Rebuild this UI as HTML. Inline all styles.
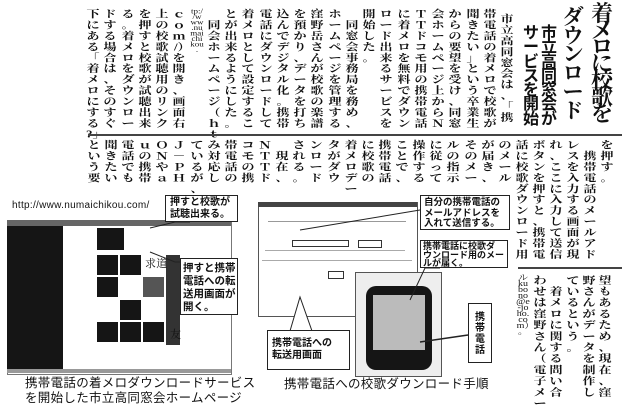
<!DOCTYPE html>
<html><head><meta charset="utf-8">
<style>
html,body{margin:0;padding:0;background:#fff}
#p{position:relative;width:622px;height:407px;overflow:hidden;background:#fff;color:#111;font-family:"Liberation Serif","Noto Serif CJK SC","Noto Serif CJK JP",serif}
.c{position:absolute;font-size:13px;line-height:14px;width:14px;text-align:center;word-break:break-all;line-break:anywhere;overflow-wrap:anywhere;transform:scaleY(.78);transform-origin:top;font-weight:700}
.r{transform:scaleY(.8)}
.h{position:absolute;font-weight:700;word-break:break-all;line-break:anywhere;text-align:center}
.b{position:absolute;background:#fff;border:1.5px solid #222;font-family:"Liberation Sans","Noto Sans CJK JP",sans-serif;font-size:10px;line-height:12px;font-weight:700;padding:2px 3px;box-sizing:border-box;white-space:nowrap;overflow:hidden;z-index:3}
.ln{position:absolute;background:#444}
.d{position:absolute;background:#151515}
.cap{position:absolute;font-family:"Liberation Sans","Noto Sans CJK JP",sans-serif;font-size:12.5px;line-height:14px;white-space:nowrap;letter-spacing:.3px;z-index:4}
</style></head><body><div id="p">

<!-- headline -->
<div class="h" style="left:590px;top:6px;width:24px;font-size:22px;line-height:16.7px">着メロに校歌を</div>
<div class="h" style="left:561px;top:8px;width:24px;font-size:21px;line-height:18.7px">ダウンロード</div>
<div class="h" style="left:540px;top:27px;width:18px;font-size:16px;line-height:14.3px;font-family:'Liberation Sans','Noto Sans CJK JP',sans-serif">市立高同窓会が</div>
<div class="h" style="left:522px;top:27px;width:18px;font-size:16px;line-height:14.3px;font-family:'Liberation Sans','Noto Sans CJK JP',sans-serif">サービスを開始</div>

<!-- upper body -->
<div class="c" style="left:500px;top:14px">市立高同窓会は、「携</div>
<div class="c" style="left:483px;top:9px">帯電話の着メロで校歌が</div>
<div class="c" style="left:466px;top:9px">聞きたい」という卒業生</div>
<div class="c" style="left:448px;top:9px">からの要望を受け、同窓</div>
<div class="c" style="left:431px;top:9px">会ホームページ上からＮ</div>
<div class="c" style="left:414px;top:9px">ＴＴドコモ用の携帯電話</div>
<div class="c" style="left:397px;top:9px">に着メロを無料でダウン</div>
<div class="c" style="left:379px;top:9px">ロード出来るサービスを</div>
<div class="c" style="left:362px;top:9px">開始した。</div>
<div class="c" style="left:345px;top:9px">　同窓会事務局を務め、</div>
<div class="c" style="left:328px;top:9px">ホームページを管理する</div>
<div class="c" style="left:310px;top:9px">窪野岳さんが校歌の楽譜</div>
<div class="c" style="left:293px;top:9px">を預かり、データを打ち</div>
<div class="c" style="left:276px;top:9px">込んでデジタル化。携帯</div>
<div class="c" style="left:259px;top:9px">電話にダウンロードして</div>
<div class="c" style="left:241px;top:9px">着メロとして設定するこ</div>
<div class="c" style="left:224px;top:9px">とが出来るようにした。</div>
<div class="c" style="left:207px;top:9px">　同会ホームページ（ｈｔ</div>
<div class="c" style="left:190px;top:9px;font-weight:400;font-size:9px;line-height:7px">tp://www.numaichikou.</div>
<div class="c" style="left:172px;top:9px">ｃｏｍ/）を開き、画面右</div>
<div class="c" style="left:155px;top:9px">上の校歌試聴用のリンク</div>
<div class="c" style="left:138px;top:9px">を押すと校歌が試聴出来</div>
<div class="c" style="left:121px;top:9px">る。着メロをダウンロー</div>
<div class="c" style="left:103px;top:9px">ドする場合は、そのすぐ</div>
<div class="c" style="left:86px;top:9px">下にある「着メロにする?」</div>

<div class="ln" style="left:88px;top:134px;width:534px;height:2px"></div>

<!-- lower body -->
<div class="c" style="left:600px;top:140px">を押す。</div>
<div class="c" style="left:583px;top:140px">　携帯電話のメールアド</div>
<div class="c" style="left:566px;top:140px">レスを入力する画面が現</div>
<div class="c" style="left:549px;top:140px">れ、ここに入力して送信</div>
<div class="c" style="left:532px;top:140px">ボタンを押すと、携帯電</div>
<div class="c" style="left:515px;top:140px">話に校歌ダウンロード用</div>
<div class="c" style="left:498px;top:140px">のメール</div>
<div class="c" style="left:481px;top:140px">が届き、</div>
<div class="c" style="left:464px;top:140px">そのメー</div>
<div class="c" style="left:446px;top:140px">ルの指示</div>
<div class="c" style="left:429px;top:140px">に従って</div>
<div class="c" style="left:412px;top:140px">操作する</div>
<div class="c" style="left:395px;top:140px">ことで、</div>
<div class="c" style="left:378px;top:140px">携帯電話</div>
<div class="c" style="left:361px;top:140px">に校歌の</div>
<div class="c" style="left:344px;top:140px">着メロデー</div>
<div class="c" style="left:327px;top:140px">タがダウ</div>
<div class="c" style="left:309px;top:140px">ンロード</div>
<div class="c" style="left:292px;top:140px">される。</div>
<div class="c" style="left:275px;top:140px">　現在、</div>
<div class="c" style="left:258px;top:140px">ＮＴＴド</div>
<div class="c" style="left:241px;top:140px">コモの携</div>
<div class="c" style="left:224px;top:140px">帯電話の</div>
<div class="c" style="left:207px;top:140px">み対応し</div>
<div class="c" style="left:190px;top:140px">ているが、</div>
<div class="c" style="left:172px;top:140px">Ｊ－ＰＨ</div>
<div class="c" style="left:155px;top:140px">ＯＮやａ</div>
<div class="c" style="left:138px;top:140px">ｕの携帯</div>
<div class="c" style="left:121px;top:140px">電話でも</div>
<div class="c" style="left:104px;top:140px">聞きたい</div>
<div class="c" style="left:87px;top:140px">という要</div>

<div class="ln" style="left:518px;top:267px;width:104px;height:1.5px"></div>

<div class="c r" style="left:598px;top:275px">望もあるため、現在、窪</div>
<div class="c r" style="left:582px;top:275px">野さんがデータを制作し</div>
<div class="c r" style="left:566px;top:275px">ているという。</div>
<div class="c r" style="left:549px;top:275px">　着メロに関する問い合</div>
<div class="c r" style="left:533px;top:275px">わせは窪野さん（電子メー</div>
<div class="c r" style="left:516px;top:275px;font-weight:400;font-size:10px;line-height:7.5px">ル kubono@e-joho.com）。</div>

<!-- left screenshot -->
<div class="cap" style="left:12px;top:199px;font-size:10px">http://www.numaichikou.com/</div>
<div style="position:absolute;left:7px;top:220px;width:223px;height:153px;border:1px solid #777;background:#fff"></div>
<div style="position:absolute;left:7px;top:220px;width:224px;height:6px;background:#666"></div>
<div class="d" style="left:7px;top:226px;width:56px;height:145px"></div>
<div style="position:absolute;left:7px;top:369px;width:224px;height:4px;background:#999"></div>
<div class="d" style="left:97px;top:228px;width:27px;height:22px"></div>
<div class="d" style="left:97px;top:255px;width:21px;height:20px"></div>
<div class="d" style="left:120px;top:255px;width:21px;height:20px"></div>
<div class="d" style="left:97px;top:277px;width:21px;height:20px"></div>
<div class="d" style="left:143px;top:277px;width:21px;height:20px;background:#555"></div>
<div class="d" style="left:120px;top:300px;width:21px;height:20px"></div>
<div class="d" style="left:97px;top:322px;width:21px;height:20px"></div>
<div class="d" style="left:120px;top:322px;width:21px;height:20px"></div>
<div class="d" style="left:143px;top:322px;width:21px;height:20px"></div>
<div class="d" style="left:166px;top:255px;width:14px;height:90px;background:#333"></div>
<div class="cap" style="left:145px;top:256px;font-size:11px;font-family:'Noto Serif CJK SC',serif">求道</div>
<div class="cap" style="left:170px;top:327px;font-size:11px;font-family:'Noto Serif CJK SC',serif">友</div>
<svg style="position:absolute;left:0;top:0;z-index:2" width="622" height="407">
<polyline points="150,228 175,222 190,222" fill="none" stroke="#222" stroke-width="1"/>
<polyline points="150,252 175,262 180,262" fill="none" stroke="#222" stroke-width="1"/>
</svg>
<div class="b" style="left:165px;top:195px;width:73px;height:27px;padding:1px 4px">押すと校歌が<br>試聴出来る。</div>
<div class="b" style="left:180px;top:258px;width:58px;height:57px;font-size:10.5px;line-height:13px;padding:3px 2px">押すと携帯<br>電話への転<br>送用画面が<br>開く。</div>
<div class="cap" style="left:25px;top:376px;width:240px">携帯電話の着メロダウンロードサービス</div>
<div class="cap" style="left:25px;top:391px;width:240px">を開始した市立高同窓会ホームページ</div>

<!-- middle -->
<div style="position:absolute;left:258px;top:202px;width:158px;height:113px;border:1px solid #555;background:#fff"></div>
<div style="position:absolute;left:258px;top:202px;width:159px;height:5px;background:#444"></div>
<div style="position:absolute;left:268px;top:221px;width:138px;height:1px;background:#999"></div>
<div style="position:absolute;left:292px;top:240px;width:55px;height:5px;border:1px solid #333"></div>
<div style="position:absolute;left:358px;top:240px;width:22px;height:6px;border:1px solid #333"></div>
<div style="position:absolute;left:265px;top:250px;width:140px;height:1px;background:#aaa"></div>
<div style="position:absolute;left:262px;top:260px;width:150px;height:1px;background:#aaa"></div>
<div style="position:absolute;left:328px;top:271px;width:14px;height:6px;border:1px solid #333"></div>
<div style="position:absolute;left:355px;top:272px;width:85px;height:103px;border:1px solid #555;background:#eee"></div>
<div class="d" style="left:366px;top:286px;width:66px;height:84px;border-radius:10px"></div>
<div style="position:absolute;left:373px;top:295px;width:52px;height:55px;background:#bbb"></div>
<svg style="position:absolute;left:0;top:0;z-index:2" width="622" height="407">
<polyline points="300,230 420,210" fill="none" stroke="#222" stroke-width="1"/>
<polyline points="410,300 425,268 440,268" fill="none" stroke="#222" stroke-width="1"/>
<polyline points="420,342 468,335" fill="none" stroke="#222" stroke-width="1.5"/>
<polygon points="290,331 300,297 312,331" fill="#fff" stroke="#222" stroke-width="1"/>
</svg>
<div class="b" style="left:267px;top:330px;width:83px;height:40px;padding:7px 4px">携帯電話への<br>転送用画面</div>
<div class="b" style="left:420px;top:195px;width:90px;height:35px;font-size:9.5px;line-height:10.5px;padding:2px 3px">自分の携帯電話の<br>メールアドレスを<br>入れて送信する。</div>
<div class="b" style="left:420px;top:240px;width:88px;height:28px;font-size:9px;line-height:8.5px;padding:1px 2px">携帯電話に校歌ダ<br>ウンロード用のメー<br>ルが届く。</div>
<div class="b" style="left:468px;top:303px;width:24px;height:60px;white-space:normal;word-break:break-all;text-align:center;padding:8px 6px;font-size:10px;line-height:11px">携帯電話</div>
<div class="cap" style="left:284px;top:377px">携帯電話への校歌ダウンロード手順</div>

</div></body></html>
